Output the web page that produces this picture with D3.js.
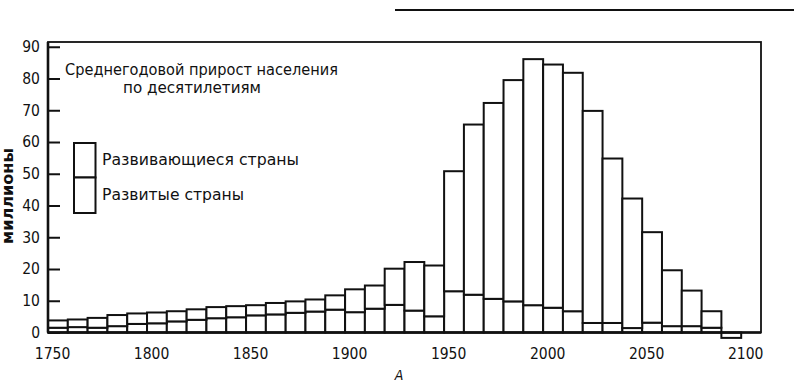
<!DOCTYPE html>
<html>
<head>
<meta charset="utf-8">
<script src="https://cdn.jsdelivr.net/npm/d3@7"></script>
<style>
  html, body { margin: 0; padding: 0; background: #fff; }
  svg { display: block; }
  text { fill: #111; }
</style>
</head>
<body>
<svg id="chart" width="794" height="386"></svg>
<script>
// ---- data ----
const decades = [1750,1760,1770,1780,1790,1800,1810,1820,1830,1840,
                 1850,1860,1870,1880,1890,1900,1910,1920,1930,1940,
                 1950,1960,1970,1980,1990,2000,2010,2020,2030,2040,
                 2050,2060,2070,2080,2090];
// average annual growth, millions – developed countries (lower part)
const developed = [1.5,1.7,1.5,2.0,2.7,2.9,3.5,4.0,4.5,4.8,
                   5.4,5.7,6.2,6.6,7.2,6.4,7.5,8.7,6.9,5.1,
                   13.0,11.9,10.6,9.8,8.6,7.8,6.7,3.0,3.0,1.4,
                   3.1,2.0,2.0,1.5,-1.7];
// developing countries (upper part)
const developing = [2.3,2.4,3.1,3.5,3.3,3.4,3.2,3.3,3.5,3.5,
                    3.2,3.6,3.6,3.8,4.5,7.2,7.3,11.4,15.3,16.0,
                    37.8,53.6,61.7,69.7,77.5,76.6,75.1,66.8,51.8,40.8,
                    28.5,17.6,11.2,5.2,0];
const yTicks = [0,10,20,30,40,50,60,70,80,90];
const xTicks = [1750,1800,1850,1900,1950,2000,2050,2100];
const seriesNames = ["Развивающиеся страны", "Развитые страны"];
const titleLines = ["Среднегодовой прирост населения", "по десятилетиям"];
const yLabel = "миллионы";
const figLabel = "А";

(function () {
// ---- layout ----
const svg = d3.select("#chart");
const pL = 48, pR = 761, pT = 42, pB = 332.5;
const x = d3.scaleLinear().domain([1750, 2110]).range([pL, pR]);
const y = d3.scaleLinear().domain([0, 91.5]).range([pB, pT]);
const FONT = "'DejaVu Sans Condensed','Liberation Sans Narrow','DejaVu Sans',sans-serif";

const rows = decades.map((d, i) => ({decade: d, developed: developed[i], developing: developing[i]}));
const stack = d3.stack().keys(["developed", "developing"]).offset(d3.stackOffsetDiverging);
const layers = stack(rows);

// bars
const g = svg.append("g");
layers.forEach(layer => {
  g.selectAll(null)
    .data(layer.filter(s => s[1] !== s[0]))
    .join("rect")
    .attr("x", s => x(s.data.decade))
    .attr("width", s => x(s.data.decade + 10) - x(s.data.decade))
    .attr("y", s => y(Math.max(s[0], s[1])))
    .attr("height", s => Math.abs(y(s[0]) - y(s[1])))
    .attr("fill", "#fff")
    .attr("stroke", "#111")
    .attr("stroke-width", 2);
});

// frame
svg.append("rect")
  .attr("x", pL).attr("y", pT)
  .attr("width", pR - pL).attr("height", pB - pT)
  .attr("fill", "none").attr("stroke", "#111").attr("stroke-width", 1.8);
svg.append("line")
  .attr("x1", pL).attr("x2", pL).attr("y1", pT).attr("y2", pB)
  .attr("stroke", "#111").attr("stroke-width", 2.6);
svg.append("line")
  .attr("x1", pL).attr("x2", pR).attr("y1", pB).attr("y2", pB)
  .attr("stroke", "#111").attr("stroke-width", 2.4);

// y axis
const yAxis = d3.axisLeft(y).tickValues(yTicks).tickSize(-12).tickPadding(8);
const ya = svg.append("g").attr("transform", `translate(${pL},0)`).call(yAxis);
ya.select(".domain").remove();
ya.selectAll(".tick line").attr("stroke", "#111").attr("stroke-width", 2);
ya.selectAll(".tick text").attr("font-family", FONT).attr("font-size", 15.5).attr("fill", "#111");

// x axis
const xAxis = d3.axisBottom(x).tickValues(xTicks).tickSize(0).tickPadding(15).tickFormat(d3.format("d"));
const xa = svg.append("g").attr("transform", `translate(0,${pB})`).call(xAxis);
xa.select(".domain").remove();
xa.selectAll(".tick text").attr("font-family", FONT).attr("font-size", 15.5).attr("dx", 4).attr("fill", "#111");

// y label
svg.append("text")
  .attr("transform", "translate(13,196) rotate(-90)")
  .attr("text-anchor", "middle")
  .attr("font-family", FONT).attr("font-weight", "bold").attr("font-size", 15)
  .attr("textLength", 96).attr("lengthAdjust", "spacingAndGlyphs")
  .text(yLabel);

// title
svg.append("text").attr("x", 65).attr("y", 75)
  .attr("font-family", FONT).attr("font-size", 15.5)
  .attr("textLength", 273).attr("lengthAdjust", "spacingAndGlyphs")
  .text(titleLines[0]);
svg.append("text").attr("x", 123).attr("y", 93)
  .attr("font-family", FONT).attr("font-size", 15)
  .attr("textLength", 138).attr("lengthAdjust", "spacingAndGlyphs")
  .text(titleLines[1]);

// legend
const lg = svg.append("g");
lg.append("rect").attr("x", 74).attr("y", 143).attr("width", 21.5).attr("height", 34.5)
  .attr("fill", "#fff").attr("stroke", "#111").attr("stroke-width", 2);
lg.append("rect").attr("x", 74).attr("y", 177.5).attr("width", 21.5).attr("height", 35.5)
  .attr("fill", "#fff").attr("stroke", "#111").attr("stroke-width", 2);
lg.append("text").attr("x", 102).attr("y", 165)
  .attr("font-family", FONT).attr("font-size", 16)
  .attr("textLength", 197).attr("lengthAdjust", "spacingAndGlyphs")
  .text(seriesNames[0]);
lg.append("text").attr("x", 102).attr("y", 200)
  .attr("font-family", FONT).attr("font-size", 16)
  .attr("textLength", 142).attr("lengthAdjust", "spacingAndGlyphs")
  .text(seriesNames[1]);

// figure letter and page rule
svg.append("text").attr("x", 399).attr("y", 380)
  .attr("text-anchor", "middle").attr("font-family", FONT)
  .attr("font-style", "italic").attr("font-size", 14)
  .text(figLabel);
svg.append("line").attr("x1", 395).attr("x2", 794).attr("y1", 10).attr("y2", 10)
  .attr("stroke", "#111").attr("stroke-width", 2);
})();
</script>
</body>
</html>
